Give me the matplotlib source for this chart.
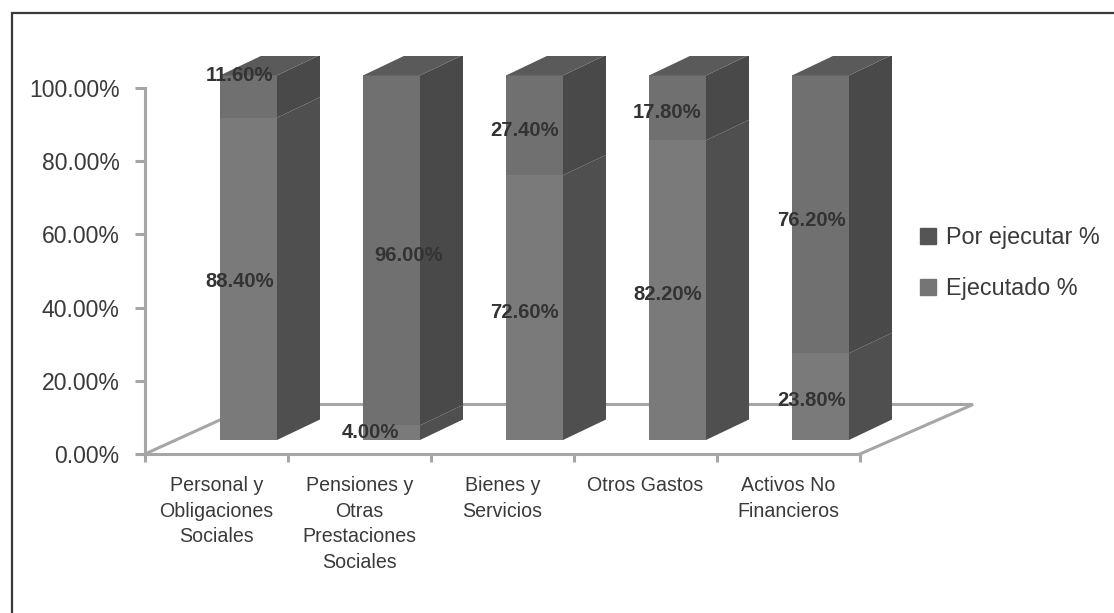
import matplotlib
matplotlib.use('Agg')
import numpy as np
import matplotlib.pyplot as plt
from matplotlib.lines import Line2D
from matplotlib.patches import Rectangle, Patch

plt.rcParams['font.family'] = ['Liberation Sans', 'DejaVu Sans']

categories = ['Personal y\nObligaciones\nSociales', 'Pensiones y\nOtras\nPrestaciones\nSociales',
              'Bienes y\nServicios', 'Otros Gastos', 'Activos No\nFinancieros']
ejecutado = [88.4, 4.0, 72.6, 82.2, 23.8]
por_ejecutar = [11.6, 96.0, 27.4, 17.8, 76.2]
yticks = [0, 20, 40, 60, 80, 100]

# label nudges in pixels (the labels were placed by hand in the original)
label_dx_ejec = [-9, -21, -10, -10, -9]
label_dy_ejec = [-3, 0, -5, -4, -4]
label_dx_por = [-9, 17, -10, -10, -9]
label_dy_por = [21, -5, -5, -5, -6]

W, H = 1114, 613
fig = plt.figure(figsize=(W / 100, H / 100), dpi=100)

# outer frame: only left and top show
fig.add_artist(Line2D([11.5 / W, 11.5 / W, 1], [0, 1 - 13 / H, 1 - 13 / H], color='#3a3a3a', lw=1.6,
                      transform=fig.transFigure, solid_joinstyle='miter'))

ax = fig.add_axes([145 / W, 1 - 454 / H, 715 / W, 366 / H])
ax.set_xlim(0, 5)
ax.set_ylim(0, 100)
ax.patch.set_alpha(0)

GREY = '#a6a6a6'
TEXT = '#3a3a3a'
for s in ['top', 'right']:
    ax.spines[s].set_visible(False)
for s in ['left', 'bottom']:
    ax.spines[s].set_color(GREY)
    ax.spines[s].set_linewidth(2.2)

ax.set_yticks(yticks)
ax.set_yticklabels(['%.2f%%' % v for v in yticks], fontsize=16.6, color=TEXT)
ax.set_xticks(np.arange(6))
ax.set_xticklabels([])
ax.set_xticks(np.arange(5) + 0.5, minor=True)
ax.set_xticklabels(categories, minor=True, fontsize=14.1, color=TEXT, linespacing=1.43)
ax.tick_params(axis='both', which='major', color=GREY, width=2.2, length=6)
ax.tick_params(axis='y', length=7.2, pad=11)
ax.tick_params(axis='x', which='minor', length=0, pad=16)

# floor
floor_dx, floor_dy = 113 / 143, 49.5 / 3.66
floor_back = 109 / 143
ax.plot([0, floor_back, 5 + floor_dx, 5], [0, floor_dy, floor_dy, 0], color=GREY, lw=2.2,
        clip_on=False, zorder=1, solid_joinstyle='miter')

# bars
bar_x0, bar_w = 75 / 143, 57 / 143
dx, dy = 43 / 143, 20.5 / 3.66
base = 14 / 3.66
scale = 0.996
clip = Rectangle((0, -50), 7, 50 + (454 - 56) / 3.66, transform=ax.transData)


def face(xs, ys, color):
    p = ax.fill(xs, ys, color=color, lw=0, clip_on=True, zorder=3)[0]
    p.set_clip_path(clip)


for i in range(5):
    x0 = i + bar_x0
    x1 = x0 + bar_w
    y1 = base + ejecutado[i] * scale
    y2 = y1 + por_ejecutar[i] * scale
    face([x0, x1, x1, x0], [base, base, y1, y1], '#7a7a7a')
    face([x0, x1, x1, x0], [y1, y1, y2, y2], '#707070')
    face([x1, x1 + dx, x1 + dx, x1], [base, base + dy, y1 + dy, y1], '#4f4f4f')
    face([x1, x1 + dx, x1 + dx, x1], [y1, y1 + dy, y2 + dy, y2], '#494949')
    face([x0, x1, x1 + dx, x0 + dx], [y2, y2, y2 + dy, y2 + dy], '#5a5a5a')

    cx = x0 + bar_w / 2
    ax.annotate('%.2f%%' % ejecutado[i], (cx, (base + y1) / 2),
                xytext=(label_dx_ejec[i] * 0.72, label_dy_ejec[i] * 0.72),
                textcoords='offset points', ha='center', va='center', fontsize=14.6,
                fontweight='bold', color='#333333', zorder=5, annotation_clip=False)
    ax.annotate('%.2f%%' % por_ejecutar[i], (cx, (y1 + y2) / 2),
                xytext=(label_dx_por[i] * 0.72, label_dy_por[i] * 0.72), textcoords='offset points',
                ha='center', va='center', fontsize=14.6, fontweight='bold', color='#333333',
                zorder=5, annotation_clip=False)

handles = [Patch(color='#555555', label='Por ejecutar %'), Patch(color='#757575', label='Ejecutado %')]
fig.legend(handles=handles, loc='center left', bbox_to_anchor=(920 / W, 1 - 263 / H), frameon=False,
           fontsize=16.8, handlelength=0.68, handleheight=0.68, handletextpad=0.43, labelspacing=1.2,
           labelcolor=TEXT, borderpad=0, borderaxespad=0)

fig.savefig('out.png', dpi=100)
